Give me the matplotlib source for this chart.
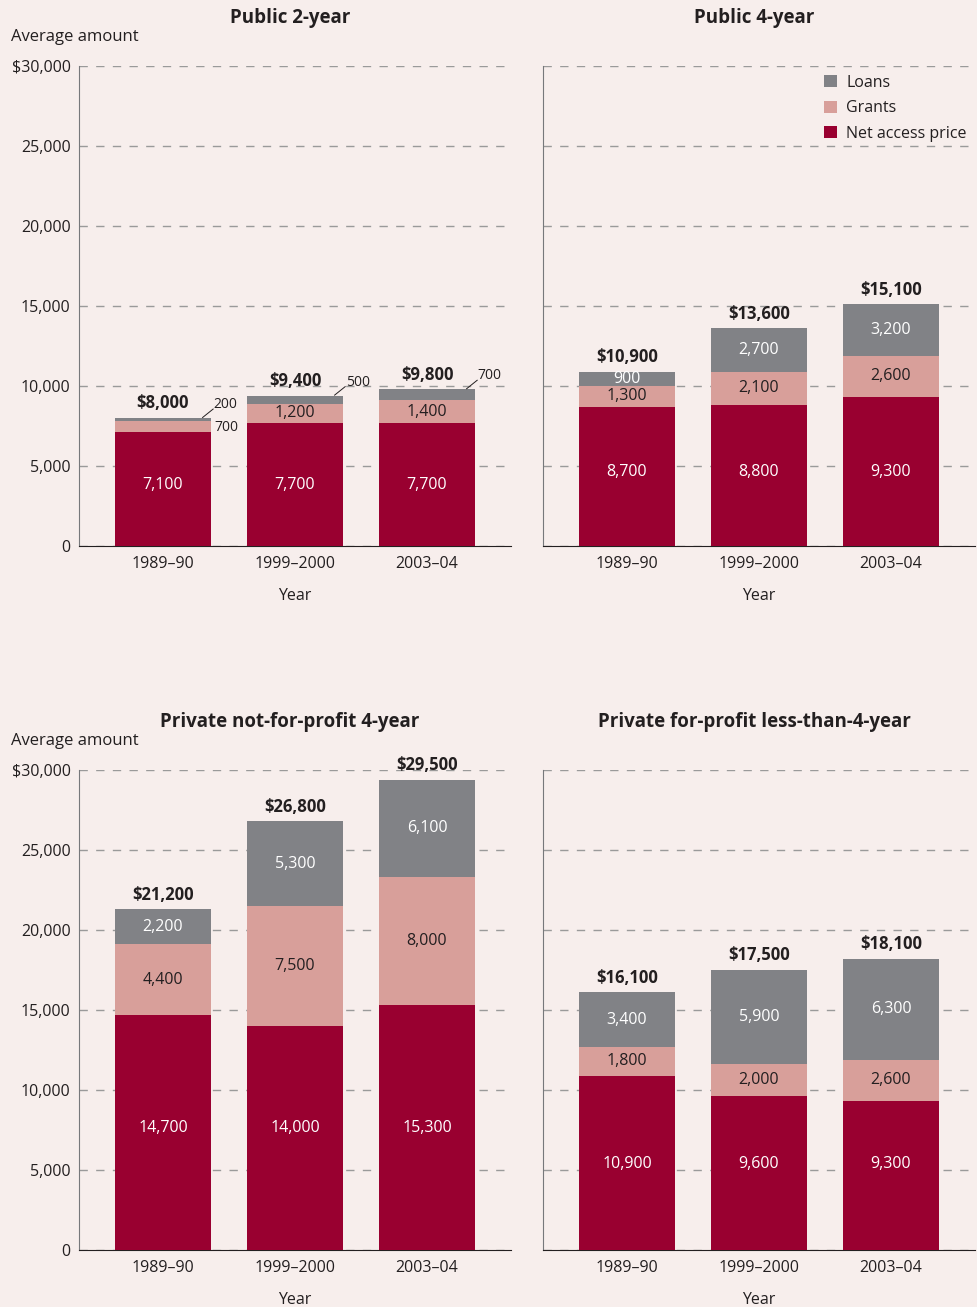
import matplotlib.pyplot as plt

plt.rcParams['font.family'] = ['Open Sans', 'DejaVu Sans']

years = ['1989–90', '1999–2000', '2003–04']
titles = ['Public 2-year', 'Public 4-year',
          'Private not-for-profit 4-year', 'Private for-profit less-than-4-year']

net = [[7100, 7700, 7700], [8700, 8800, 9300],
       [14700, 14000, 15300], [10900, 9600, 9300]]
grants = [[700, 1200, 1400], [1300, 2100, 2600],
          [4400, 7500, 8000], [1800, 2000, 2600]]
loans = [[200, 500, 700], [900, 2700, 3200],
         [2200, 5300, 6100], [3400, 5900, 6300]]
totals = [[8000, 9400, 9800], [10900, 13600, 15100],
          [21200, 26800, 29500], [16100, 17500, 18100]]

yticks = [0, 5000, 10000, 15000, 20000, 25000, 30000]
ytick_labels = ['0', '5,000', '10,000', '15,000', '20,000', '25,000', '$30,000']

# height where the net price labels sit in each panel
net_label_y = [3800, 4600, 7600, 5400]

bg = '#f7eeec'
c_net = '#990030'
c_grant = '#d89f9a'
c_loan = '#818286'
txt = '#231f20'

W, H = 977, 1307
fig = plt.figure(figsize=(W / 100, H / 100), dpi=100, facecolor=bg)

# axes boxes in pixels: left, top of plot area, bottom
boxes = [(79, 66, 546), (543, 66, 546), (79, 770, 1250), (543, 770, 1250)]
aw = 432

for k, (lx, ty, by) in enumerate(boxes):
    ax = fig.add_axes([lx / W, (H - by) / H, aw / W, (by - ty) / H])
    ax.set_facecolor(bg)
    x = [0, 1, 2]
    w = 0.727
    b1 = net[k]
    b2 = [n + g for n, g in zip(net[k], grants[k])]
    ax.bar(x, net[k], w, color=c_net, zorder=3, label='Net access price')
    ax.bar(x, grants[k], w, bottom=b1, color=c_grant, zorder=3, label='Grants')
    ax.bar(x, loans[k], w, bottom=b2, color=c_loan, zorder=3, label='Loans')

    ax.set_xlim(-0.636, 2.636)
    ax.set_ylim(0, 30000)
    ax.set_yticks(yticks)
    ax.grid(axis='y', color='#9a9a9a', linestyle=(0, (6, 6)), linewidth=1, zorder=1)
    ax.spines['top'].set_visible(False)
    ax.spines['right'].set_visible(False)
    ax.spines['left'].set_color('#77787b')
    ax.spines['bottom'].set_color(txt)
    ax.tick_params(length=0, labelsize=11.5, colors=txt, pad=6)
    ax.tick_params(axis='x', pad=7)
    ax.set_xticks(x)
    ax.set_xticklabels(years)
    if k % 2 == 0:
        ax.set_yticklabels(ytick_labels)
        fig.text(11 / W, 1 - (ty - 29) / H, 'Average amount', fontsize=12,
                 color=txt, ha='left', va='center')
    else:
        ax.set_yticklabels([])
    ax.set_xlabel('Year', fontsize=11.5, color=txt, labelpad=11.5)
    fig.text((lx + 211) / W, 1 - (ty - 48) / H, titles[k], fontsize=13.5,
             fontweight='bold', color=txt, ha='center', va='center')

    for i in x:
        ax.text(i, net_label_y[k], f'{net[k][i]:,}', color='white', fontsize=11.5,
                ha='center', va='center', zorder=4)
        if k == 0:
            if grants[k][i] >= 1000:
                ax.text(i, b1[i] + grants[k][i] / 2, f'{grants[k][i]:,}', color=txt,
                        fontsize=11.5, ha='center', va='center', zorder=4)
            else:
                ax.text(i + 0.39, b1[i] + grants[k][i] / 2 - 50, f'{grants[k][i]:,}',
                        color=txt, fontsize=10, ha='left', va='center', zorder=4)
            t = totals[k][i]
            ax.plot([i + 0.30, i + 0.38], [t + 30, t + 560], color=txt, lw=0.7, zorder=4)
            ax.text(i + 0.385, t + 830, f'{loans[k][i]:,}', color=txt, fontsize=10,
                    ha='left', va='center', zorder=4)
        else:
            ax.text(i, b1[i] + grants[k][i] / 2, f'{grants[k][i]:,}', color=txt,
                    fontsize=11.5, ha='center', va='center', zorder=4)
            ax.text(i, b2[i] + loans[k][i] / 2, f'{loans[k][i]:,}', color='white',
                    fontsize=11.5, ha='center', va='center', zorder=4)
        ax.annotate(f'${totals[k][i]:,}', (i, b2[i] + loans[k][i]),
                    xytext=(0, 4), textcoords='offset points', ha='center',
                    va='bottom', fontsize=12, fontweight='bold', color=txt, zorder=4)

    if k == 1:
        h, l = ax.get_legend_handles_labels()
        leg = ax.legend(h[::-1], l[::-1], loc='upper right', frameon=False,
                        fontsize=11.5, handlelength=0.8, handleheight=0.8,
                        handletextpad=0.6, labelspacing=0.6,
                        bbox_to_anchor=(1.003, 1.002), borderaxespad=0.2)
        for t in leg.get_texts():
            t.set_color(txt)

fig.savefig('out.png', dpi=100, facecolor=bg)
